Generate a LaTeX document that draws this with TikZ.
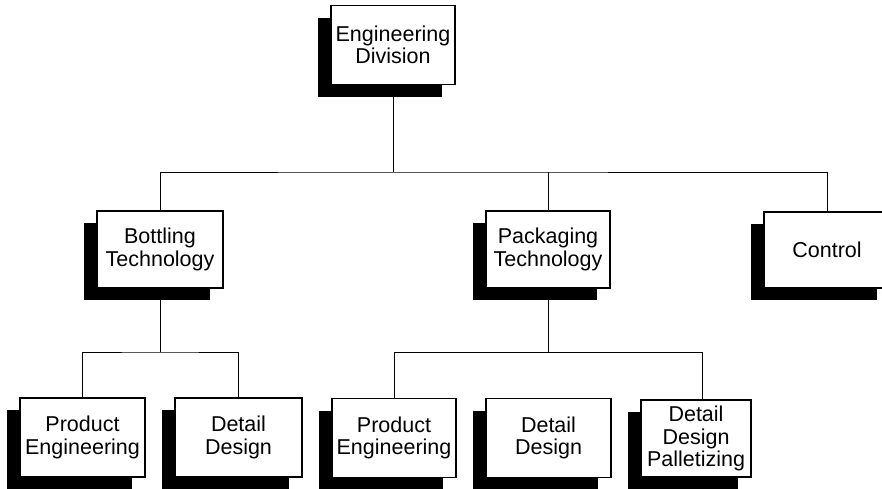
\documentclass[tikz,border=0pt]{standalone}
\usepackage{fontspec}
\setmainfont{Liberation Sans}
\usetikzlibrary{shadows}
\begin{document}
\begin{tikzpicture}[x=1pt,y=-1pt,
  unit/.style={draw=black, line width=1.3pt, fill=white, inner sep=0pt,
    align=center, font=\fontsize{21.5}{22.5}\selectfont,
    drop shadow={shadow xshift=-13pt, shadow yshift=-12pt, fill=black, opacity=1}},
  link/.style={draw=black, line width=1pt}]
\useasboundingbox (0,0) rectangle (882,488);

% level 1
\node[unit, minimum width=124pt, minimum height=79pt] (top) at (393,45) {Engineering\\Division};

% level 2
\node[unit, minimum width=126pt, minimum height=77pt] (bot)  at (160,249.5) {Bottling\\Technology};
\node[unit, minimum width=124pt, minimum height=77pt] (pack) at (548,249.5) {Packaging\\Technology};
\node[unit, minimum width=126pt, minimum height=76pt] (ctrl) at (827,250) {Control};

% level 3
\node[unit, minimum width=125pt, minimum height=79pt] (pe1) at (82.5,437.5) {Product\\Engineering};
\node[unit, minimum width=127pt, minimum height=79pt] (dd1) at (238.5,437.5) {Detail\\Design};
\node[unit, minimum width=124pt, minimum height=79pt] (pe2) at (394,438) {Product\\Engineering};
\node[unit, minimum width=125pt, minimum height=79pt] (dd2) at (548.5,438) {Detail\\Design};
\node[unit, minimum width=110pt, minimum height=77pt] (ddp) at (696,438.5) {Detail\\Design\\Palletizing};

% bus junctions
\coordinate (j0) at (393,172);
\coordinate (j1) at (160,352);
\coordinate (j2) at (548,352);
\coordinate (k)  at (702,352);

% connectors
\draw[link] (top.south) -- (j0);
\draw[link] (bot.north) |- (j0) -| (ctrl.north);
\draw[link] (pack.north) -- (pack.north |- j0);

\draw[link] (bot.south) -- (j1);
\draw[link] (pe1.north) |- (j1) -| (dd1.north);

\draw[link] (pack.south) -- (j2);
\draw[link] (pe2.north) |- (k) -- (k |- ddp.north);
\end{tikzpicture}
\end{document}
